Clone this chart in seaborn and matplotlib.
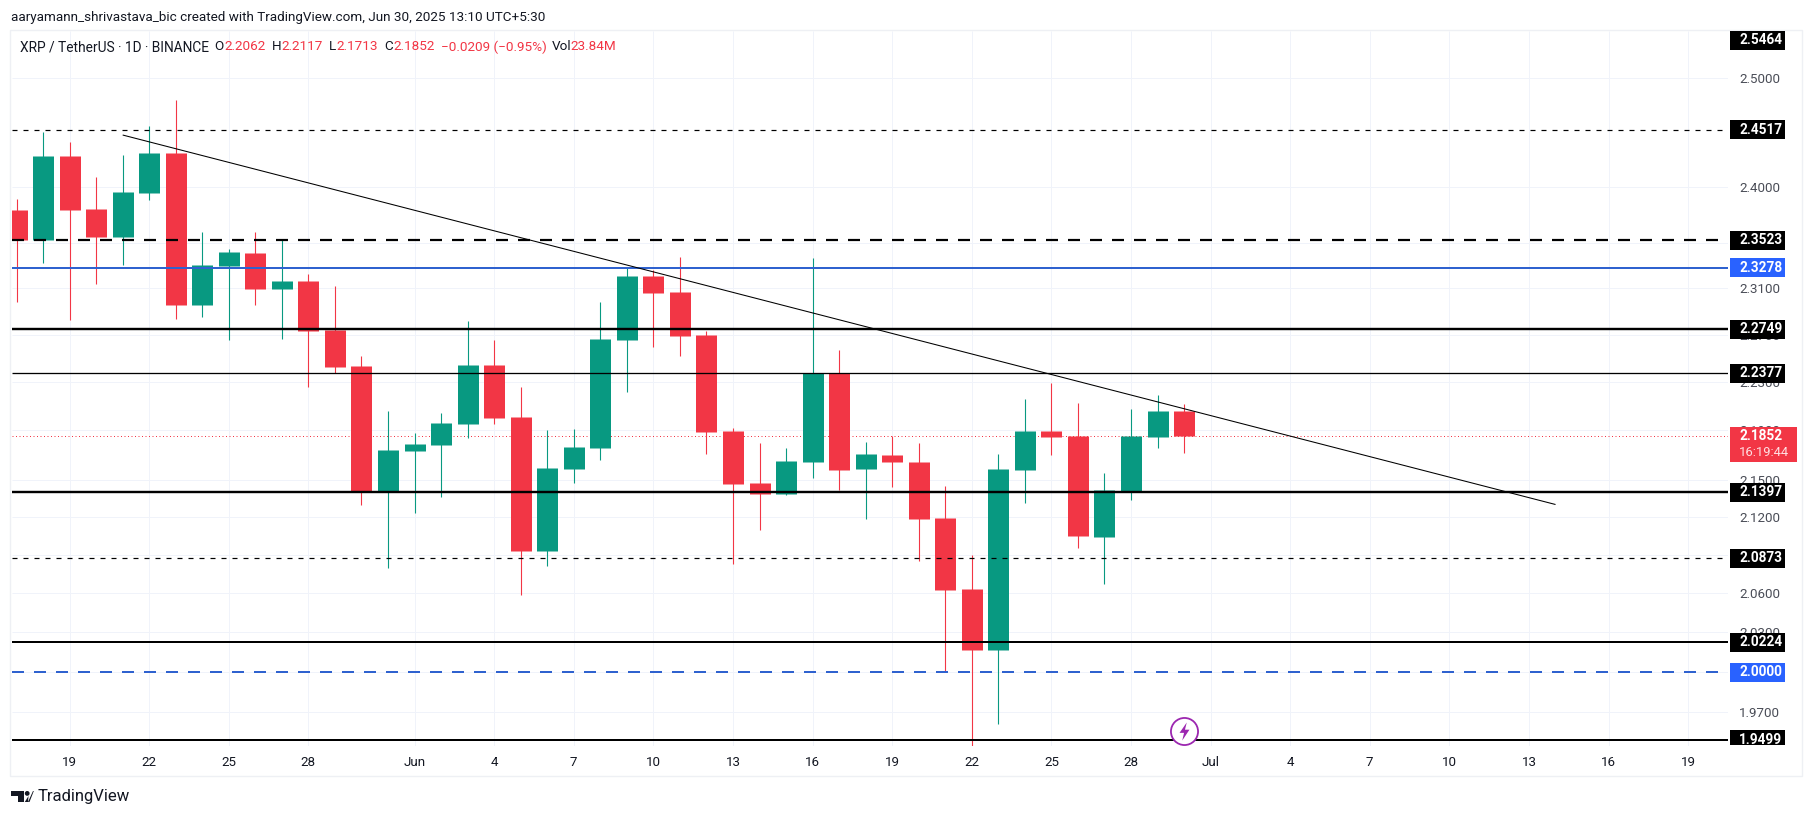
import numpy as np
import pandas as pd
import matplotlib
matplotlib.use("Agg")
import matplotlib.pyplot as plt
import matplotlib.dates as mdates
from matplotlib.patches import Rectangle, Polygon, Circle
from matplotlib.ticker import NullLocator
from matplotlib.transforms import IdentityTransform, Bbox
import seaborn as sns

# XRP / USDT daily candles, 17 May - 30 Jun 2025
dates = pd.date_range("2025-05-17", "2025-06-30", freq="D")
opens = [2.3791, 2.3525, 2.4279, 2.3800, 2.3551, 2.3943, 2.4306, 2.2957, 2.3297, 2.3410, 2.3096,
         2.3166, 2.2743, 2.2438, 2.1410, 2.1731, 2.1783, 2.1954, 2.2446, 2.2012, 2.0930, 2.1586,
         2.1756, 2.2660, 2.3209, 2.3070, 2.2700, 2.1895, 2.1472, 2.1383, 2.1642, 2.2376, 2.1586,
         2.1699, 2.1642, 2.1192, 2.0634, 2.0166, 2.1577, 2.1895, 2.1855, 2.1041, 2.1408, 2.1846,
         2.2062]
highs = [2.3889, 2.4498, 2.4407, 2.4088, 2.4288, 2.4554, 2.4794, 2.3596, 2.3445, 2.3596, 2.3534,
         2.3227, 2.3122, 2.2522, 2.2061, 2.1879, 2.2045, 2.2820, 2.2658, 2.2261, 2.1904, 2.1912,
         2.2983, 2.3279, 2.3262, 2.3375, 2.2735, 2.1921, 2.1797, 2.1756, 2.3366, 2.2572, 2.1805,
         2.1855, 2.1797, 2.1448, 2.0899, 2.1707, 2.2160, 2.2295, 2.2127, 2.1553, 2.2078, 2.2194,
         2.2117]
lows = [2.2983, 2.3323, 2.2829, 2.3140, 2.3305, 2.3880, 2.2837, 2.2854, 2.2658, 2.2957, 2.2666,
        2.2261, 2.2379, 2.1295, 2.0800, 2.1232, 2.1359, 2.1838, 2.1954, 2.0587, 2.0813, 2.1472,
        2.1658, 2.2219, 2.2598, 2.2522, 2.1707, 2.0829, 2.1097, 2.1375, 2.1513, 2.1416, 2.1184,
        2.1440, 2.0852, 2.0000, 1.9452, 1.9614, 2.1311, 2.1699, 2.0954, 2.0673, 2.1335, 2.1756,
        2.1713]
closes = [2.3525, 2.4279, 2.3791, 2.3551, 2.3952, 2.4306, 2.2957, 2.3305, 2.3419, 2.3096, 2.3166,
          2.2735, 2.2429, 2.1410, 2.1739, 2.1789, 2.1962, 2.2446, 2.2003, 2.0930, 2.1594, 2.1764,
          2.2666, 2.3209, 2.3061, 2.2692, 2.1888, 2.1464, 2.1383, 2.1650, 2.2376, 2.1577, 2.1707,
          2.1642, 2.1184, 2.0626, 2.0166, 2.1586, 2.1895, 2.1846, 2.1049, 2.1416, 2.1855, 2.2061,
          2.1852]

# Axis labels
y_ticks = [2.5, 2.4, 2.35, 2.31, 2.27, 2.23, 2.19, 2.15, 2.12, 2.09, 2.06, 2.03, 2.0, 1.97]
x_tick_dates = ["2025-05-19", "2025-05-22", "2025-05-25", "2025-05-28", "2025-06-01", "2025-06-04",
                "2025-06-07", "2025-06-10", "2025-06-13", "2025-06-16", "2025-06-19", "2025-06-22",
                "2025-06-25", "2025-06-28", "2025-07-01", "2025-07-04", "2025-07-07", "2025-07-10",
                "2025-07-13", "2025-07-16", "2025-07-19"]
x_tick_labels = ["19", "22", "25", "28", "Jun", "4", "7", "10", "13", "16", "19", "22", "25", "28",
                 "Jul", "4", "7", "10", "13", "16", "19"]

# Drawn levels: price, colour, width in px, dash pattern in px
black_levels = [2.4517, 2.3523, 2.2749, 2.2377, 2.1397, 2.0873, 2.0224, 1.9499]
black_widths = [1.2, 2.2, 2.4, 1.3, 2.4, 1.2, 2.0, 2.0]
black_dashes = [(5, 6), (12, 10), None, None, None, (5, 6), None, None]
blue_levels = [2.3278, 2.0000]
blue_dashes = [None, (12, 10)]
last_price = 2.1852
countdown = "16:19:44"

# Trend line
trend_dates = ["2025-05-21", "2025-07-14"]
trend_prices = [2.4470, 2.1299]

RED = "#f23645"
GREEN = "#089981"
BLUE = "#2f62cf"
W, H = 1814, 816
px = 0.72

sns.set_theme(style="white")
plt.rcParams["font.family"] = ["Roboto", "DejaVu Sans"]
plt.rcParams["lines.solid_capstyle"] = "butt"

fig = plt.figure(figsize=(W / 100, H / 100), dpi=100, facecolor="white")
ax = fig.add_axes([11.5 / W, (H - 746) / H, (1728 - 11.5) / W, (746 - 31) / H])
ax.set_yscale("log")

# Candles, one short line per candle
direction = ["up" if c >= o else "down" for o, c in zip(opens, closes)]
df = pd.DataFrame({"date": dates, "open": opens, "high": highs, "low": lows, "close": closes, "dir": direction})
palette = {"up": GREEN, "down": RED}
wicks = df.melt(id_vars=["date", "dir"], value_vars=["high", "low"], value_name="price")
bodies = df.melt(id_vars=["date", "dir"], value_vars=["open", "close"], value_name="price")
sns.lineplot(data=wicks, x="date", y="price", hue="dir", units="date", estimator=None, palette=palette,
             linewidth=1.1 * px, legend=False, ax=ax, zorder=3)
sns.lineplot(data=bodies, x="date", y="price", hue="dir", units="date", estimator=None, palette=palette,
             linewidth=21 * px, legend=False, ax=ax, zorder=3.1)


def level_line(price, color, width, dash):
    line = ax.axhline(price, color=color, lw=width * px, zorder=5)
    if dash:
        line.set_linestyle((0, (dash[0] / width, dash[1] / width)))


for price, width, dash in zip(black_levels, black_widths, black_dashes):
    level_line(price, "black", width, dash)
for price, dash in zip(blue_levels, blue_dashes):
    level_line(price, BLUE, 2.0, dash)
ax.axhline(last_price, color=RED, lw=1.0 * px, ls=(0, (1, 2.5)), zorder=2)

trend = pd.DataFrame({"date": pd.to_datetime(trend_dates), "price": trend_prices})
sns.lineplot(data=trend, x="date", y="price", color="black", linewidth=1.05 * px, estimator=None,
             ax=ax, zorder=6)

# Event icon on the last candle
x_last = dates[-1]
event_price = 1.9563
ax.plot([x_last], [event_price], marker="o", ms=19.5, mfc="white", mec="#9c27b0", mew=1.3, zorder=7, ls="none")
bolt = [(0.25, 1), (-0.55, -0.15), (-0.05, -0.15), (-0.25, -1), (0.55, 0.2), (0.05, 0.2)]
ax.plot([x_last], [event_price], marker=bolt, ms=13, mfc="#9c27b0", mec="#9c27b0", mew=0, zorder=8, ls="none")

# Axes
x0 = mdates.date2num(pd.Timestamp("2025-05-19"))
ax.set_xlim(x0 - 2.19, x0 + 62.5)
ax.set_ylim(1.9452, 2.5445)
ax.set_xticks(pd.to_datetime(x_tick_dates))
ax.set_xticklabels(x_tick_labels)
ax.yaxis.tick_right()
ax.xaxis.set_minor_locator(NullLocator())
ax.set_yticks(y_ticks)
ax.set_yticklabels([f"{v:.4f}" for v in y_ticks])
ax.yaxis.set_minor_locator(NullLocator())
ax.grid(True, color="#f0f3fa", lw=1.0 * px, zorder=0)
ax.set_axisbelow(True)
ax.tick_params(axis="x", length=0, pad=7, labelsize=9.6, colors="#131722")
ax.tick_params(axis="y", length=0, pad=8, labelsize=9.6, colors="#4a4d57")
for lab in ax.get_yticklabels():
    lab.set_ha("left")
ax.set_xlabel("")
ax.set_ylabel("")
sns.despine(ax=ax, left=True, bottom=True, right=True, top=True)

identity = IdentityTransform()


def ftext(x, y, s, **kw):
    # pixel position measured from the top left of the image
    kw.setdefault("fontsize", 9.6)
    kw.setdefault("color", "#131722")
    kw.setdefault("va", "center")
    return fig.text(x, H - y, s, transform=identity, **kw)


# Outer frame of the chart
fig.add_artist(Rectangle((10, H - 776), 1792, 746, transform=identity, fc="none", ec="#eef0f4", lw=1.4 * px, zorder=0.5))

# Header and legend
ftext(11, 17, "aaryamann_shrivastava_bic created with TradingView.com, Jun 30, 2025 13:10 UTC+5:30", fontsize=9.7)
ftext(20, 47, "XRP / TetherUS · 1D · BINANCE", fontsize=9.9)
legend_parts = [(214, "O", "#131722"), (224, "2.2062", RED), (272, "H", "#131722"), (281, "2.2117", RED),
                (329, "L", "#131722"), (336, "2.1713", RED), (384, "C", "#131722"), (393, "2.1852", RED),
                (441, "−0.0209 (−0.95%)", RED), (552, "Vol", "#131722"), (570, "23.84M", RED)]
for x, s, c in legend_parts:
    ftext(x, 47, s, color=c, fontsize=9.7)

# Price tags to the right of the plot
panel_clip = Bbox([[0, H - 745], [W, H - 31]])


def price_tag(y_px, label, color="black"):
    rect = Rectangle((1730, H - y_px - 9.5), 55, 19, transform=identity, fc=color, ec="none", zorder=8)
    fig.add_artist(rect)
    rect.set_clip_box(panel_clip)
    ftext(1739, y_px, label, color="white", fontsize=9.8, fontweight="bold", zorder=9)


def y_of(price):
    return H - ax.transData.transform((x0, price))[1]


for price in black_levels:
    price_tag(y_of(price), f"{price:.4f}")
for price in blue_levels:
    price_tag(y_of(price), f"{price:.4f}", color="#2962ff")
price_tag(40.5, "2.5464")

last_y = y_of(last_price)
fig.add_artist(Rectangle((1730, H - 462), 67, 35, transform=identity, fc=RED, ec="none", zorder=8))
ftext(1739, last_y, f"{last_price:.4f}", color="white", zorder=9, fontsize=9.8, fontweight="bold")
ftext(1739, last_y + 16, countdown, color="#ffdfe2", zorder=9, fontsize=9.4)

# TradingView logo at the bottom
logo = "#131722"
fig.add_artist(Polygon([(11, H - 791), (24, H - 791), (24, H - 802), (18, H - 802), (18, H - 796), (11, H - 796)],
                       transform=identity, fc=logo, ec="none"))
fig.add_artist(Circle((27.2, H - 793.4), 2.4, transform=identity, fc=logo, ec="none"))
fig.add_artist(Polygon([(28, H - 802), (33, H - 791), (33.8, H - 791), (29.5, H - 802), (24.8, H - 802), (28.5, H - 796)],
                       transform=identity, fc=logo, ec="none"))
ftext(38, 797, "TradingView", fontsize=12, color="#131722")

fig.savefig("out.png", dpi=100, facecolor="white")
